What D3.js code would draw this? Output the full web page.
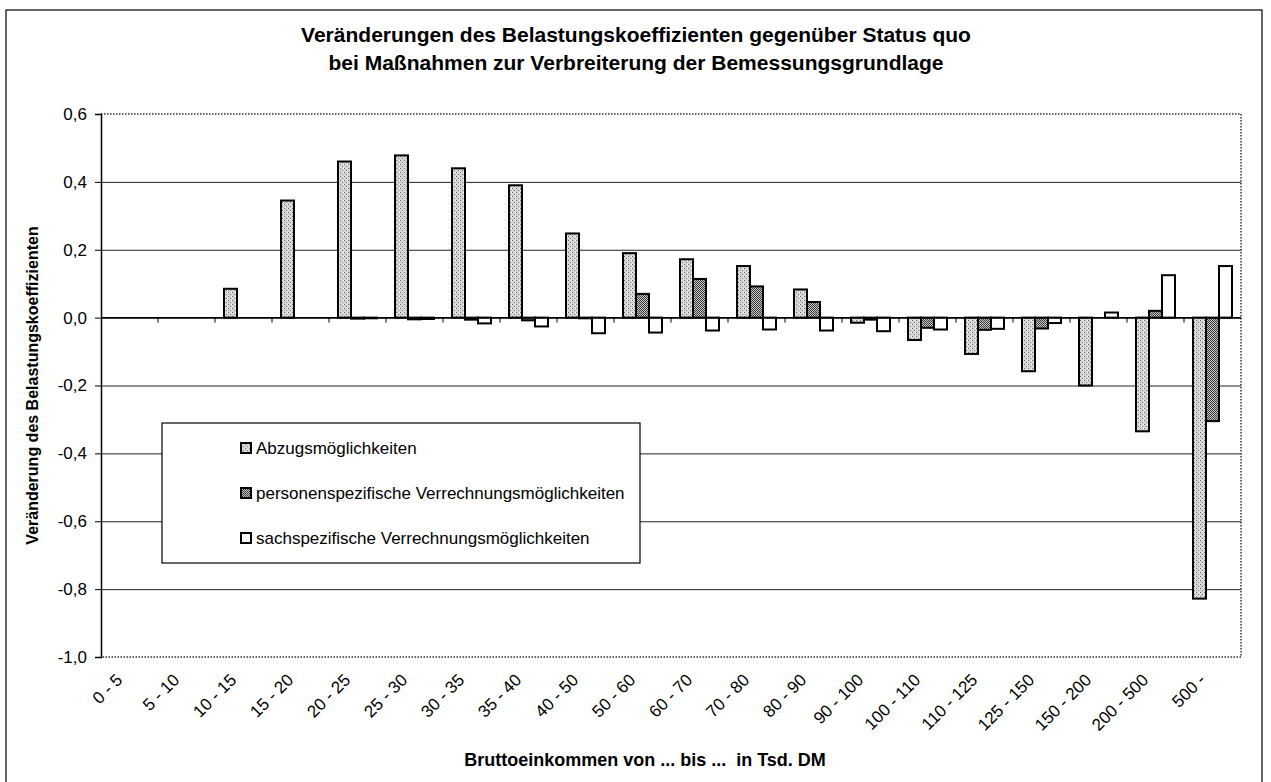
<!DOCTYPE html>
<html>
<head>
<meta charset="utf-8">
<script src="https://cdn.jsdelivr.net/npm/d3@7/dist/d3.min.js"></script>
<style>
body { margin: 0; background: #fff; }
text { font-family: "Liberation Sans", Arial, sans-serif; fill: #000; }
</style>
</head>
<body>
<svg id="svgBelastung" width="1271" height="782"></svg>
<script>

// Einkommensklassen (Tsd. DM)
var klassen = ["0 - 5", "5 - 10", "10 - 15", "15 - 20", "20 - 25", "25 - 30", "30 - 35", "35 - 40",
               "40 - 50", "50 - 60", "60 - 70", "70 - 80", "80 - 90", "90 - 100", "100 - 110",
               "110 - 125", "125 - 150", "150 - 200", "200 - 500", "500 -"];

// Werte (null = kein Balken)
var abzugsmoeglichkeiten = [null, null, 0.085, 0.345, 0.46, 0.478, 0.44, 0.39, 0.248, 0.19,
                            0.172, 0.152, 0.083, -0.015, -0.066, -0.107, -0.158, -0.2, -0.335, -0.828];
var personenspezifisch   = [null, null, null, null, -0.003, -0.005, -0.006, -0.008, -0.002, 0.07,
                            0.114, 0.092, 0.046, -0.006, -0.03, -0.036, -0.032, null, 0.02, -0.305];
var sachspezifisch       = [null, null, null, null, -0.002, -0.004, -0.017, -0.026, -0.046, -0.044,
                            -0.038, -0.035, -0.038, -0.04, -0.035, -0.033, -0.016, 0.015, 0.125, 0.152];

var serienNamen = ["Abzugsmöglichkeiten", "personenspezifische Verrechnungsmöglichkeiten",
                   "sachspezifische Verrechnungsmöglichkeiten"];
var yTicks = [-1.0, -0.8, -0.6, -0.4, -0.2, 0.0, 0.2, 0.4, 0.6];

function dibujarGrafico() {
    var svg = d3.select("#svgBelastung");

    var plot = { left: 101, right: 1241, top: 114, bottom: 657 };

    var defs = svg.append("defs");

    // helles Punktraster
    var m1 = defs.append("pattern").attr("id", "musterAbzug")
        .attr("width", 4).attr("height", 4).attr("patternUnits", "userSpaceOnUse");
    m1.append("rect").attr("width", 4).attr("height", 4).attr("fill", "#d6d6d6");
    m1.append("rect").attr("x", 0).attr("y", 0).attr("width", 1).attr("height", 1).attr("fill", "#6a6a6a");
    m1.append("rect").attr("x", 2).attr("y", 2).attr("width", 1).attr("height", 1).attr("fill", "#808080");
    m1.append("rect").attr("x", 3).attr("y", 0).attr("width", 1).attr("height", 1).attr("fill", "#f4f4f4");

    // dunkles Kreuzraster
    var m2 = defs.append("pattern").attr("id", "musterPersonen")
        .attr("width", 2).attr("height", 2).attr("patternUnits", "userSpaceOnUse");
    m2.append("rect").attr("width", 2).attr("height", 2).attr("fill", "#c4c4c4");
    m2.append("rect").attr("x", 0).attr("y", 0).attr("width", 1).attr("height", 1).attr("fill", "#3e3e3e");
    m2.append("rect").attr("x", 1).attr("y", 1).attr("width", 1).attr("height", 1).attr("fill", "#3e3e3e");

    var fuellung = ["url(#musterAbzug)", "url(#musterPersonen)", "#ffffff"];

    // äusserer Rahmen
    svg.append("rect")
       .attr("x", 6).attr("y", 10)
       .attr("width", 1256).attr("height", 790)
       .attr("fill", "none")
       .attr("stroke", "#000")
       .attr("stroke-width", 1.2);

    // Titel
    var titel = svg.append("text")
       .attr("text-anchor", "middle")
       .attr("font-size", "21px")
       .attr("font-weight", "bold");
    titel.append("tspan").attr("x", 636).attr("y", 42)
         .text("Veränderungen des Belastungskoeffizienten gegenüber Status quo");
    titel.append("tspan").attr("x", 636).attr("y", 70)
         .text("bei Maßnahmen zur Verbreiterung der Bemessungsgrundlage");

    var x0 = d3.scaleBand()
        .domain(klassen)
        .range([plot.left, plot.right])
        .paddingInner(0.316)
        .paddingOuter(0.158);

    var x1 = d3.scaleBand()
        .domain([0, 1, 2])
        .range([0, x0.bandwidth()]);

    var y = d3.scaleLinear()
        .domain([-1.0, 0.6])
        .range([plot.bottom, plot.top]);

    var loc = d3.formatLocale({ decimal: ",", thousands: ".", grouping: [3], currency: ["", ""], minus: "-" });
    var fmt = loc.format(".1f");

    // Gitterlinien
    svg.append("g")
       .attr("transform", "translate(" + plot.left + ",0)")
       .call(d3.axisLeft(y).tickValues(yTicks.slice(1, -1)).tickSize(-(plot.right - plot.left)).tickFormat(""))
       .call(function (g) {
           g.select(".domain").remove();
           g.selectAll("line").attr("stroke", "#222").attr("stroke-width", 1);
       });

    // Rahmen oben, rechts, unten gepunktet
    svg.append("path")
       .attr("d", "M" + plot.left + "," + plot.top + "H" + plot.right + "V" + plot.bottom + "H" + plot.left)
       .attr("fill", "none")
       .attr("stroke", "#333")
       .attr("stroke-width", 1.5)
       .attr("stroke-dasharray", "1.5,1.5");

    // Legende (liegt über den Gitterlinien)
    var legende = svg.append("g").attr("transform", "translate(162,423)");
    legende.append("rect")
       .attr("width", 478).attr("height", 140)
       .attr("fill", "#fff")
       .attr("stroke", "#000")
       .attr("stroke-width", 1.2);

    var eintrag = legende.selectAll(".eintrag")
       .data(serienNamen)
       .enter().append("g")
       .attr("class", "eintrag")
       .attr("transform", function (d, i) { return "translate(79," + (25 + i * 45) + ")"; });

    eintrag.append("rect")
       .attr("x", 0).attr("y", -5)
       .attr("width", 10).attr("height", 10)
       .attr("fill", function (d, i) { return fuellung[i]; })
       .attr("stroke", "#000")
       .attr("stroke-width", 2);

    eintrag.append("text")
       .attr("x", 15).attr("y", 0)
       .attr("dy", "0.35em")
       .attr("font-size", "17px")
       .text(function (d) { return d; });

    // Y-Achse
    svg.append("g")
       .attr("transform", "translate(" + plot.left + ",0)")
       .call(d3.axisLeft(y).tickValues(yTicks).tickSize(6).tickPadding(8).tickFormat(fmt))
       .call(function (g) {
           g.select(".domain").attr("stroke", "#000").attr("stroke-width", 1.5);
           g.selectAll("text").attr("font-size", "17px").attr("fill", "#000")
            .attr("font-family", "Liberation Sans, Arial, sans-serif");
       });

    // Balken
    var reihen = [abzugsmoeglichkeiten, personenspezifisch, sachspezifisch];
    var balkenDaten = [];
    klassen.forEach(function (k, i) {
        reihen.forEach(function (r, s) {
            if (r[i] !== null) balkenDaten.push({ klasse: k, serie: s, wert: r[i] });
        });
    });

    svg.selectAll(".bar")
       .data(balkenDaten)
       .enter().append("rect")
       .attr("class", "bar")
       .attr("x", function (d) { return x0(d.klasse) + x1(d.serie); })
       .attr("y", function (d) { return y(Math.max(0, d.wert)); })
       .attr("width", x1.bandwidth())
       .attr("height", function (d) { return Math.max(0.5, Math.abs(y(d.wert) - y(0))); })
       .attr("fill", function (d) { return fuellung[d.serie]; })
       .attr("stroke", "#000")
       .attr("stroke-width", 2);

    // X-Achse bei 0 mit Trennstrichen zwischen den Klassen
    var schritt = x0.step();
    var grenzen = d3.range(klassen.length + 1).map(function (i) { return plot.left + i * schritt; });

    svg.append("line")
       .attr("x1", plot.left).attr("x2", plot.right)
       .attr("y1", y(0)).attr("y2", y(0))
       .attr("stroke", "#000").attr("stroke-width", 1.5);

    svg.selectAll(".trenn")
       .data(grenzen.slice(1, -1))
       .enter().append("line")
       .attr("class", "trenn")
       .attr("x1", function (d) { return d; }).attr("x2", function (d) { return d; })
       .attr("y1", y(0)).attr("y2", y(0) + 5)
       .attr("stroke", "#000").attr("stroke-width", 1);

    // Klassenbeschriftung unten, 45 Grad gedreht
    svg.append("g")
       .attr("transform", "translate(0," + plot.bottom + ")")
       .call(d3.axisBottom(x0).tickSize(0).tickPadding(0))
       .call(function (g) {
           g.select(".domain").remove();
           g.selectAll("text")
            .attr("font-size", "17px")
            .attr("fill", "#000")
            .attr("font-family", "Liberation Sans, Arial, sans-serif")
            .attr("text-anchor", "end")
            .attr("y", 0).attr("dy", 0)
            .attr("transform", "translate(-6,24) rotate(-45)");
       });

    // Achsentitel
    svg.append("text")
       .attr("transform", "translate(38," + ((plot.top + plot.bottom) / 2) + ") rotate(-90)")
       .attr("text-anchor", "middle")
       .attr("font-size", "16px")
       .attr("font-weight", "bold")
       .text("Veränderung des Belastungskoeffizienten");

    svg.append("text")
       .attr("x", 645).attr("y", 766)
       .attr("text-anchor", "middle")
       .attr("font-size", "18px")
       .attr("font-weight", "bold")
       .attr("xml:space", "preserve")
       .text("Bruttoeinkommen von ... bis ...  in Tsd. DM");
}

dibujarGrafico();
</script>
</body>
</html>
